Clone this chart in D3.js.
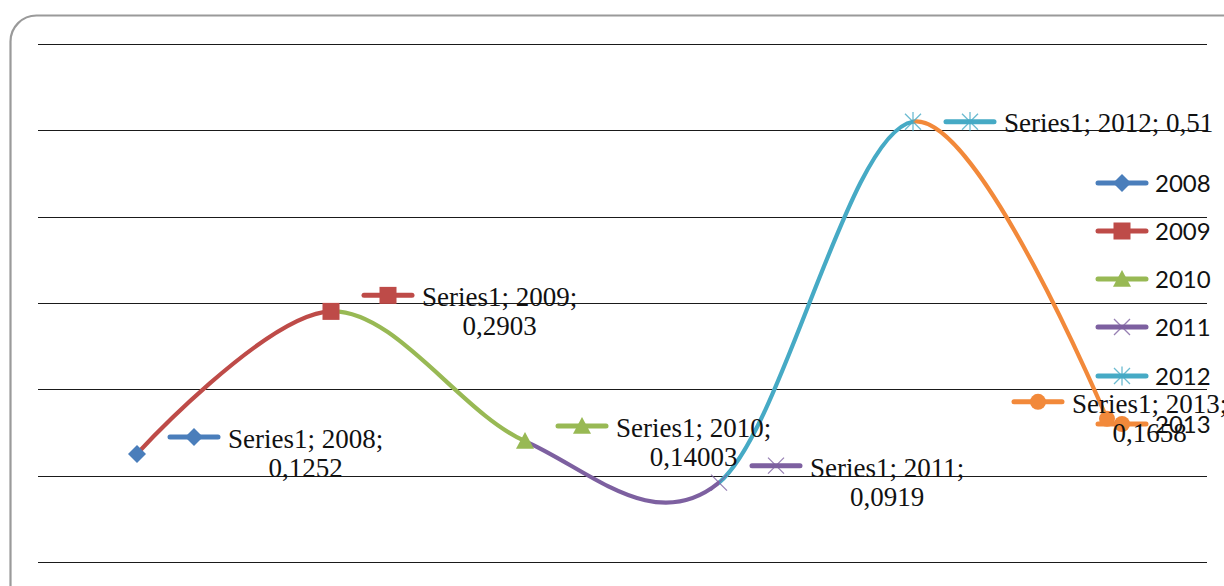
<!DOCTYPE html>
<html>
<head>
<meta charset="utf-8">
<script src="https://cdn.jsdelivr.net/npm/d3@7"></script>
<style>
  html, body { margin: 0; padding: 0; background: #fff; }
  svg { display: block; }
</style>
</head>
<body>
<svg id="chart" width="1224" height="586"></svg>
<script>
// ---- data ----
const categories = ["2008", "2009", "2010", "2011", "2012", "2013"];
const values = [0.1252, 0.2903, 0.14003, 0.0919, 0.51, 0.1658];
const valueLabels = ["0,1252", "0,2903", "0,14003", "0,0919", "0,51", "0,1658"];
const seriesName = "Series1";
const yTicks = [0, 0.1, 0.2, 0.3, 0.4, 0.5, 0.6];

// ---- styling ----
const colors = ["#4A7EBB", "#BE4B48", "#98B954", "#7D60A0", "#46AAC5", "#F2893A"];
const markers = ["diamond", "square", "triangle", "x", "star", "circle"];

const svg = d3.select("#chart");
const W = 1224, H = 586;

// frame
svg.append("rect")
  .attr("x", 10.5).attr("y", 15.5)
  .attr("width", 1260).attr("height", 600)
  .attr("rx", 26).attr("ry", 26)
  .attr("fill", "#fff").attr("stroke", "#9a9a9a").attr("stroke-width", 2.2);

const x = d3.scalePoint().domain(categories).range([40, 1204]).padding(0.5);
const y = d3.scaleLinear().domain([0, 0.6]).range([562, 44]);

// gridlines
svg.append("g")
  .selectAll("line").data(yTicks).join("line")
  .attr("x1", 38).attr("x2", 1207)
  .attr("y1", d => Math.round(y(d)) + 0.5).attr("y2", d => Math.round(y(d)) + 0.5)
  .attr("stroke", "#1a1a1a").attr("stroke-width", 1.1);

const pts = categories.map((c, i) => ({ c, v: values[i], i, px: x(c), py: y(values[i]) }));

// smooth line, colored per segment (color of the point it leads to)
const line = d3.line().x(d => d.px).y(d => d.py).curve(d3.curveCardinal.tension(0));
const defs = svg.append("defs");
for (let i = 0; i < pts.length - 1; i++) {
  defs.append("clipPath").attr("id", "seg" + i)
    .append("rect")
    .attr("x", pts[i].px).attr("y", 0)
    .attr("width", pts[i + 1].px - pts[i].px).attr("height", H);
  svg.append("path")
    .attr("d", line(pts))
    .attr("clip-path", `url(#seg${i})`)
    .attr("fill", "none")
    .attr("stroke", colors[i + 1])
    .attr("stroke-width", 4.2)
    .attr("stroke-linejoin", "round");
}

function drawMarker(g, type, color, cx, cy, s) {
  s = s || 1;
  if (type === "diamond") {
    const r = 9 * s;
    g.append("path").attr("d", `M${cx},${cy - r}L${cx + r},${cy}L${cx},${cy + r}L${cx - r},${cy}Z`).attr("fill", color);
  } else if (type === "square") {
    const r = 8.5 * s;
    g.append("rect").attr("x", cx - r).attr("y", cy - r).attr("width", 2 * r).attr("height", 2 * r).attr("fill", color);
  } else if (type === "triangle") {
    const r = 9 * s;
    g.append("path").attr("d", `M${cx},${cy - r}L${cx + r},${cy + r * 0.85}L${cx - r},${cy + r * 0.85}Z`).attr("fill", color);
  } else if (type === "x") {
    const r = 8 * s;
    g.append("path").attr("d", `M${cx - r},${cy - r}L${cx + r},${cy + r}M${cx - r},${cy + r}L${cx + r},${cy - r}`)
      .attr("stroke", color).attr("stroke-width", 1.3).attr("fill", "none").attr("opacity", 0.8);
  } else if (type === "star") {
    const r = 8 * s;
    g.append("path").attr("d", `M${cx - r},${cy - r}L${cx + r},${cy + r}M${cx - r},${cy + r}L${cx + r},${cy - r}M${cx},${cy - r * 1.2}L${cx},${cy + r * 1.2}`)
      .attr("stroke", color).attr("stroke-width", 1.3).attr("fill", "none").attr("opacity", 0.8);
  } else if (type === "circle") {
    g.append("circle").attr("cx", cx).attr("cy", cy).attr("r", 8 * s).attr("fill", color);
  }
}

function drawKey(g, i, x0, cy) {
  g.append("line").attr("x1", x0).attr("x2", x0 + 48).attr("y1", cy).attr("y2", cy)
    .attr("stroke", colors[i]).attr("stroke-width", 5).attr("stroke-linecap", "round");
  drawMarker(g, markers[i], colors[i], x0 + 24, cy, 1);
}

// markers at points
const mg = svg.append("g");
pts.forEach(p => drawMarker(mg, markers[p.i], colors[p.i], p.px, p.py, 1));

// legend
const legY = [183, 231, 279, 327, 376, 424];
const lg = svg.append("g");
categories.forEach((c, i) => {
  drawKey(lg, i, 1098, legY[i]);
  lg.append("text").attr("x", 1155).attr("y", legY[i] + 8.5)
    .attr("font-family", "Lato, 'Open Sans', sans-serif").attr("font-size", 24)
    .attr("fill", "#111").text(c);
});

// data labels
const lblDx = [33, 33, 33, 33, 33, -93];
const lblDy = [-17, -16, -15, -17, 0, -17];
const singleLine = [false, false, false, false, true, false];
const dl = svg.append("g");
pts.forEach(p => {
  const kx = p.px + lblDx[p.i];
  const ky = p.py + lblDy[p.i];
  drawKey(dl, p.i, kx, ky);
  const tx = kx + 58;
  const font = "'Liberation Serif', 'Times New Roman', serif";
  if (singleLine[p.i]) {
    dl.append("text").attr("x", tx).attr("y", ky + 10)
      .attr("font-family", font).attr("font-size", 27).attr("fill", "#111")
      .text(`${seriesName}; ${p.c}; ${valueLabels[p.i]}`);
  } else {
    const t1 = dl.append("text").attr("x", tx).attr("y", ky + 11)
      .attr("font-family", font).attr("font-size", 27).attr("fill", "#111")
      .text(`${seriesName}; ${p.c};`);
    const w = t1.node().getComputedTextLength();
    dl.append("text").attr("x", tx + w / 2).attr("y", ky + 40)
      .attr("text-anchor", "middle")
      .attr("font-family", font).attr("font-size", 27).attr("fill", "#111")
      .text(valueLabels[p.i]);
  }
});
</script>
</body>
</html>
